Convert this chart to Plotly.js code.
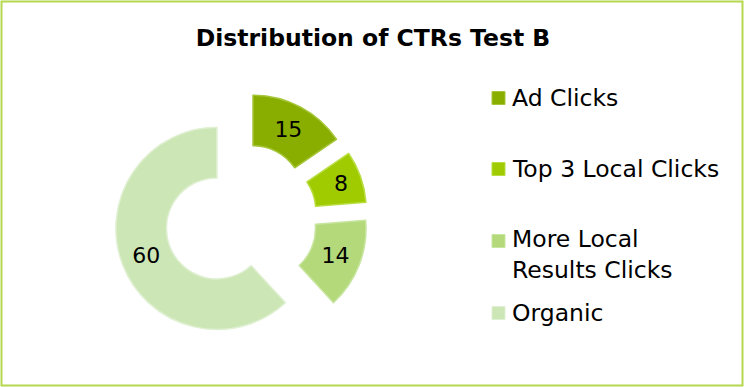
<!DOCTYPE html>
<html>
<head>
<meta charset="utf-8">
<script src="https://cdn.plot.ly/plotly-3.0.1.min.js"></script>
<style>
html,body{margin:0;padding:0;background:#fff;}
#chart{width:746px;height:387px;}
</style>
</head>
<body>
<div id="chart"></div>
<script>
var categories = ["Ad Clicks", "Top 3 Local Clicks", "More Local<br>Results Clicks", "Organic"];
var values = [15, 8, 14, 60];
var colors = ["#8aae00", "#9fcb00", "#b3d97a", "#cce6b6"];
var edgeColors = ["#a6c63a", "#b8dd40", "#c9e6a0", "#e0f0d2"];

var FONT = "Century Gothic, 'DejaVu Sans', sans-serif";

var trace = {
  type: "pie",
  labels: categories,
  values: values,
  sort: false,
  direction: "clockwise",
  rotation: 0,
  hole: 0.5,
  pull: [0.255, 0.255, 0.255, 0.255],
  textinfo: "value",
  textposition: "inside",
  insidetextorientation: "horizontal",
  textfont: {family: FONT, size: 22, color: "#000"},
  marker: {colors: colors, line: {color: edgeColors, width: 1.5}},
  domain: {x: [0.153, 0.493], y: [0.106, 0.762]},
  showlegend: false,
  hoverinfo: "label+value"
};

// manual legend matching the original spacing
var legendY = [98, 169, 255, 313];
var shapes = [];
var annotations = [];
for (var i = 0; i < categories.length; i++) {
  var yc = legendY[i];
  var sqY = (i === 2) ? 241 : yc;
  shapes.push({
    type: "rect", xref: "paper", yref: "paper",
    x0: 492 / 746, x1: 505 / 746,
    y0: 1 - (sqY + 6.5) / 387, y1: 1 - (sqY - 6.5) / 387,
    fillcolor: colors[i], line: {color: edgeColors[i], width: 1}
  });
  annotations.push({
    xref: "paper", yref: "paper",
    x: 510 / 746, y: 1 - yc / 387,
    xanchor: "left", yanchor: "middle", align: "left",
    text: categories[i], showarrow: false,
    font: {family: FONT, size: 23.5, color: "#000"}
  });
}
// outer frame
shapes.push({
  type: "rect", xref: "paper", yref: "paper",
  x0: 1.5 / 746, x1: 742.5 / 746, y0: 1 - 385.5 / 387, y1: 1 - 1.5 / 387,
  line: {color: "#b6d84e", width: 2}, fillcolor: "rgba(0,0,0,0)"
});

var layout = {
  width: 746, height: 387,
  margin: {l: 0, r: 0, t: 0, b: 0},
  paper_bgcolor: "#fff",
  title: {
    text: "<b>Distribution of CTRs Test B</b>",
    font: {family: FONT, size: 23.5, color: "#000"},
    x: 0.5, xanchor: "center", y: 1 - 38 / 387, yanchor: "middle"
  },
  shapes: shapes,
  annotations: annotations
};

Plotly.newPlot("chart", [trace], layout, {displayModeBar: false, staticPlot: true});
</script>
</body>
</html>
